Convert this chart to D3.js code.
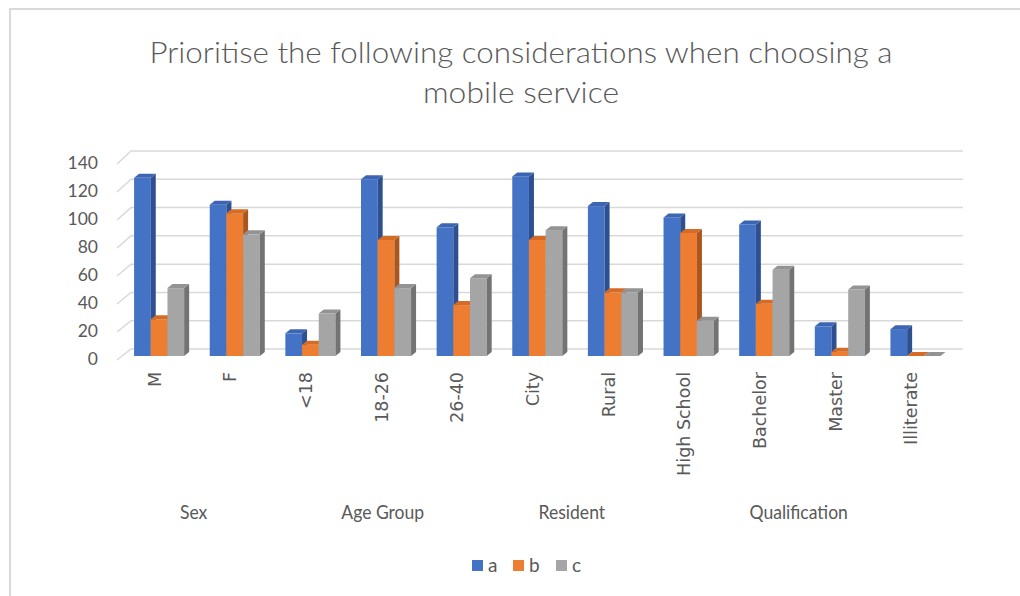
<!DOCTYPE html>
<html>
<head>
<meta charset="utf-8">
<script src="https://cdn.jsdelivr.net/npm/d3@7"></script>
<style>
  html, body { margin: 0; padding: 0; background: #fff; }
  svg { display: block; }
</style>
</head>
<body>
<svg id="chart" width="1020" height="596"></svg>
<script>
// Responses by demographic category
const categories = ["M", "F", "<18", "18-26", "26-40", "City", "Rural", "High School", "Bachelor", "Master", "Illiterate"];
const seriesNames = ["a", "b", "c"];
const valuesA = [126, 107, 16, 125, 91, 127, 106, 98, 93, 21, 19];
const valuesB = [26, 101, 8, 82, 36, 82, 45, 87, 37, 3, 0];
const valuesC = [48, 86, 30, 48, 55, 89, 45, 25, 61, 47, 0];
const groups = [
  { name: "Sex", members: ["M", "F"] },
  { name: "Age Group", members: ["<18", "18-26", "26-40"] },
  { name: "Resident", members: ["City", "Rural"] },
  { name: "Qualification", members: ["High School", "Bachelor", "Master", "Illiterate"] }
];
const yTicks = [0, 20, 40, 60, 80, 100, 120, 140];

const seriesValues = [valuesA, valuesB, valuesC];
const faceColors = [
  { front: "#4472C4", top: "#3C66B4", side: "#2E5090" },
  { front: "#ED7D31", top: "#D46C27", side: "#A9561F" },
  { front: "#A5A5A5", top: "#939393", side: "#737373" }
];

const svg = d3.select("#chart");
const textColor = "#595959";

// chart frame
svg.append("path")
  .attr("d", "M10,600 L10,9 L1025,9")
  .attr("fill", "none").attr("stroke", "#d9d9d9").attr("stroke-width", 2);

// title
const title = svg.append("text")
  .attr("text-anchor", "middle")
  .attr("fill", textColor)
  .style("font-family", "Lato, 'Open Sans', sans-serif")
  .style("font-weight", 300)
  .style("font-size", "30px");
title.append("tspan").attr("x", 521).attr("y", 63)
  .attr("textLength", 743).attr("lengthAdjust", "spacingAndGlyphs")
  .text("Prioritise the following considerations when choosing a");
title.append("tspan").attr("x", 521).attr("y", 103)
  .attr("textLength", 196).attr("lengthAdjust", "spacingAndGlyphs")
  .text("mobile service");

// geometry of the 3D plot
const frontLeft = 117, frontRight = 949;
const wallDx = 14, wallDy = -11;        // back wall offset from front plane
const barDx = 5, barDy = -4;            // depth of each column
const x = d3.scaleBand().domain(categories).range([frontLeft, frontRight]);
const y = d3.scaleLinear().domain([0, 140]).range([356, 158]);   // column front faces
const yBack = v => y(v) - 7;                                      // back wall
const yFront = v => yBack(v) - wallDy + (v / 140) * 2;            // front plane edge

// gridlines: short diagonal on the side floor edge then across the back wall
const grid = svg.append("g");
yTicks.forEach(t => {
  grid.append("path")
    .attr("d", `M${frontLeft},${yFront(t)} L${frontLeft + wallDx},${yBack(t)} L${frontRight + wallDx},${yBack(t)}`)
    .attr("fill", "none").attr("stroke", "#d9d9d9").attr("stroke-width", 1.5);
});

// y axis labels
svg.append("g").selectAll("text").data(yTicks).join("text")
  .attr("x", 98).attr("y", d => yFront(d) + 1)
  .attr("text-anchor", "end").attr("dominant-baseline", "middle")
  .attr("fill", textColor)
  .style("font-family", "Lato, 'Open Sans', sans-serif")
  .style("font-size", "17.5px")
  .text(d => d);

// columns
const groupW = x.bandwidth() * 0.662;
const inner = d3.scaleBand().domain(seriesNames).range([0, groupW]);
const bars = svg.append("g");
categories.forEach((cat, ci) => {
  const gx = x(cat) + (x.bandwidth() - groupW) / 2 + 4.3;
  seriesNames.forEach((s, si) => {
    const v = seriesValues[si][ci];
    const x0 = gx + inner(s), w = inner.bandwidth();
    const yt = y(v), yb = y(0);
    const col = faceColors[si];
    const g = bars.append("g");
    if (v > 0) {
      g.append("rect").attr("x", x0).attr("y", yt).attr("width", w).attr("height", yb - yt).attr("fill", col.front);
      g.append("polygon")
        .attr("points", [[x0 + w, yt], [x0 + w + barDx, yt + barDy], [x0 + w + barDx, yb + barDy], [x0 + w, yb]].join(" "))
        .attr("fill", col.side);
    }
    g.append("polygon")
      .attr("points", [[x0, yt], [x0 + barDx, yt + barDy], [x0 + w + barDx, yt + barDy], [x0 + w, yt]].join(" "))
      .attr("fill", col.top);
  });
});

// category labels, rotated
svg.append("g").selectAll("text").data(categories).join("text")
  .attr("transform", d => `translate(${x(d) + x.bandwidth() / 2 + 6},372) rotate(-90)`)
  .attr("text-anchor", "end")
  .attr("fill", textColor)
  .style("font-family", "'DejaVu Sans', sans-serif")
  .style("font-size", "17.5px")
  .text(d => d);

// group labels
svg.append("g").selectAll("text").data(groups).join("text")
  .attr("transform", d => {
    const first = d.members[0], last = d.members[d.members.length - 1];
    const cx = (x(first) + x(last) + x.bandwidth()) / 2 + 1;
    return `translate(${cx},519) scale(0.9,1)`;
  })
  .attr("text-anchor", "middle")
  .attr("fill", textColor)
  .style("font-family", "Lato, 'Open Sans', sans-serif")
  .style("font-size", "19.5px")
  .text(d => d.name);

// legend
const legend = svg.append("g");
const legendX = [472, 513, 556];
seriesNames.forEach((s, i) => {
  legend.append("rect").attr("x", legendX[i]).attr("y", 560).attr("width", 11).attr("height", 11)
    .attr("fill", faceColors[i].front);
  legend.append("text").attr("x", legendX[i] + 16).attr("y", 572)
    .attr("fill", textColor)
    .style("font-family", "Lato, 'Open Sans', sans-serif")
    .style("font-size", "19px")
    .text(s);
});
</script>
</body>
</html>
